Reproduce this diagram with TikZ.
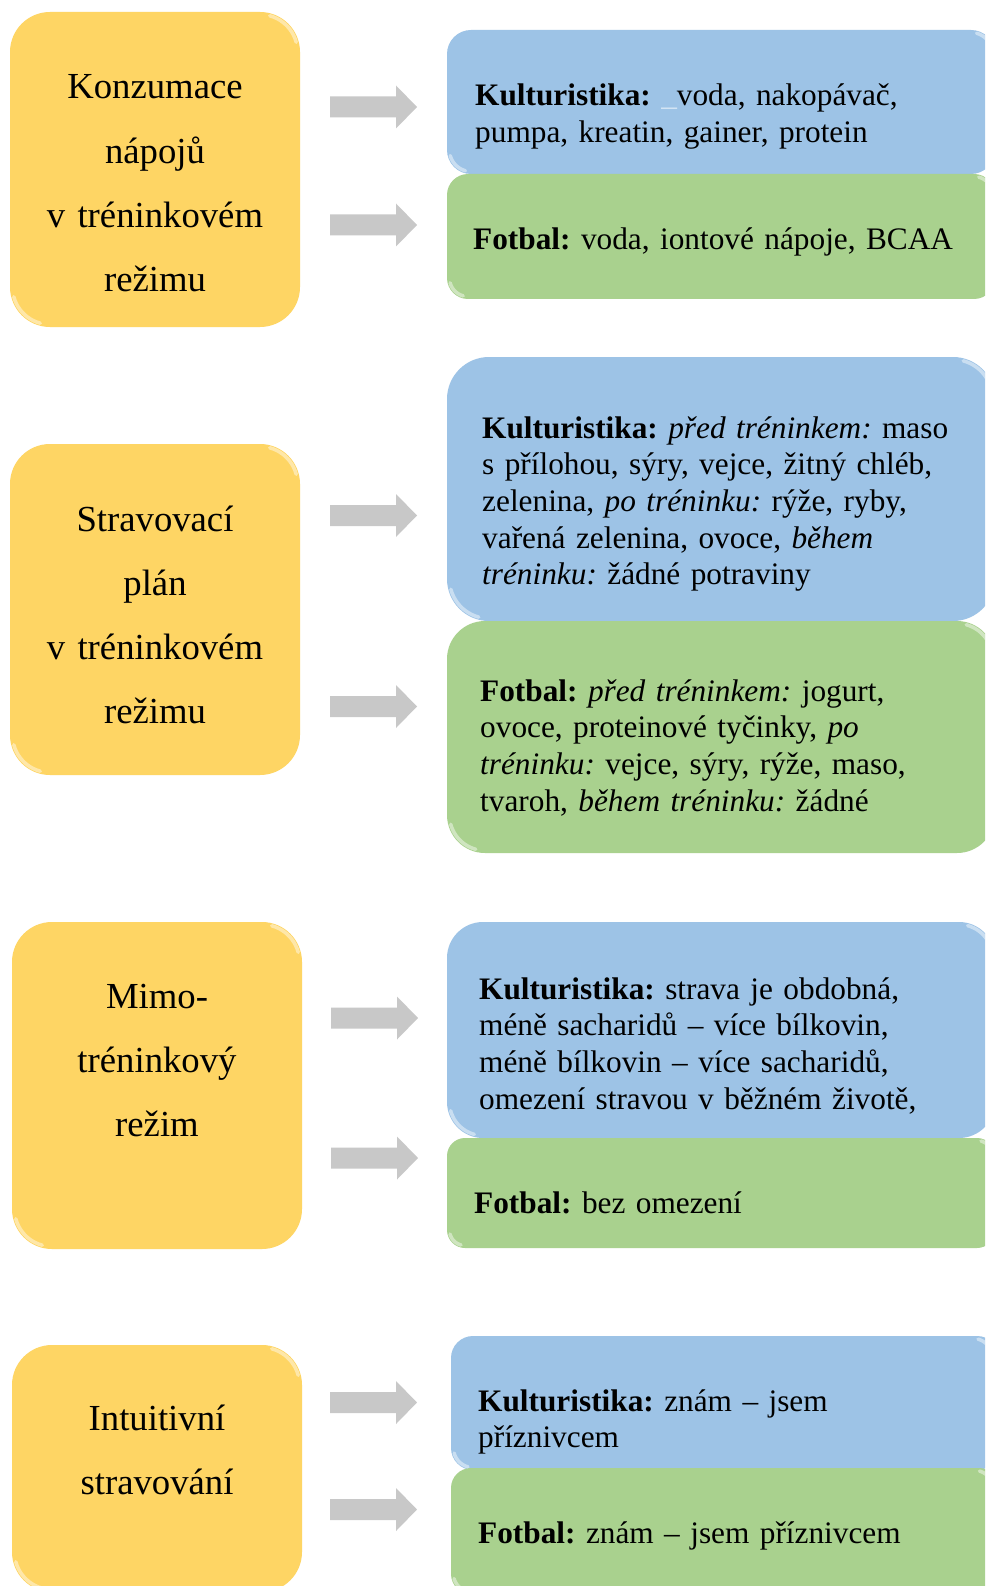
\documentclass[tikz,border=0pt]{standalone}
\usepackage{fontspec}
\setmainfont{Liberation Serif}
\frenchspacing
\definecolor{ybox}{RGB}{254,213,100}
\definecolor{bbox}{RGB}{157,195,230}
\definecolor{gbox}{RGB}{169,209,142}
\definecolor{agray}{RGB}{200,200,200}
\newcommand{\blockarr}[1]{\fill[agray] (#1) ++(0,-10.5) -- ++(66,0) -- ++(0,-11) -- ++(21,21.5) -- ++(-21,21.5) -- ++(0,-11) -- ++(-66,0) -- cycle;}
\newcommand{\glint}[5]{%
  \draw[white, opacity=0.45, line width=3.5, line cap=round] plot[domain=-75:-15, samples=12] ({#3-#5+(#5-2.5)*cos(\x)}, {#2+#5+(#5-2.5)*sin(\x)});
  \draw[white, opacity=0.45, line width=3.5, line cap=round] plot[domain=105:165, samples=12] ({#1+#5+(#5-2.5)*cos(\x)}, {#4-#5+(#5-2.5)*sin(\x)});}
\tikzset{
  boxbase/.style={rectangle, inner sep=0pt, outer sep=0pt, anchor=north west},
  ylw/.style={boxbase, fill=ybox, minimum width=290, rounded corners=40},
  blu/.style={boxbase, fill=bbox, minimum width=548},
  grn/.style={boxbase, fill=gbox, minimum width=548},
  lefttext/.style={inner sep=0pt, anchor=base, text width=290, align=center, font=\fontsize{36.7}{64.3}\selectfont\frenchspacing},
  righttext/.style={inner sep=0pt, anchor=base west, text width=520, align=left, font=\fontsize{31.3}{36.7}\selectfont\frenchspacing}
}
\begin{document}
\begin{tikzpicture}[x=1pt,y=-1pt]
\useasboundingbox (0,0) rectangle (985,1586);
\clip (0,0) rectangle (985,1586);
\fill[white] (0,0) rectangle (985,1586);

% ---------- Section 1 ----------
\node[ylw, minimum height=315] (Y1) at (10,12) {};
\node[blu, minimum height=144, rounded corners=24] (B1) at (447,30) {};
\node[grn, minimum height=125, rounded corners=21] (G1) at (447,174) {};
\glint{10}{12}{300}{327}{40}
\glint{447}{30}{995}{174}{24}
\glint{447}{174}{995}{299}{21}
\coordinate (a11) at (330,107);
\coordinate (a12) at (330,225);
\blockarr{a11}
\blockarr{a12}
\node[lefttext] (tY1) at (155,99) {Konzumace\\ nápojů\\ v tréninkovém\\ režimu};
\node[righttext] (tB1) at (475,106) {\textbf{Kulturistika:} \textcolor{white!55!bbox}{\_}voda, nakopávač,\\ pumpa, kreatin, gainer, protein};
\node[righttext] (tG1) at (473,250) {\textbf{Fotbal:} voda, iontové nápoje, BCAA};

% ---------- Section 2 ----------
\node[ylw, minimum height=331] (Y2) at (10,444) {};
\node[blu, minimum height=264, rounded corners=42] (B2) at (447,357) {};
\node[grn, minimum height=232, rounded corners=38] (G2) at (447,621) {};
\glint{10}{444}{300}{775}{40}
\glint{447}{357}{995}{621}{42}
\glint{447}{621}{995}{853}{38}
\coordinate (a21) at (330,515.5);
\coordinate (a22) at (330,706.5);
\blockarr{a21}
\blockarr{a22}
\node[lefttext] (tY2) at (155,531) {Stravovací\\ plán\\ v tréninkovém\\ režimu};
\node[righttext] (tB2) at (482,438) {\textbf{Kulturistika:} \textit{před tréninkem:} maso\\ s přílohou, sýry, vejce, žitný chléb,\\ zelenina, \textit{po tréninku:} rýže, ryby,\\ vařená zelenina, ovoce, \textit{během}\\ \textit{tréninku:} žádné potraviny};
\node[righttext] (tG2) at (480,701) {\textbf{Fotbal:} \textit{před tréninkem:} jogurt,\\ ovoce, proteinové tyčinky, \textit{po}\\ \textit{tréninku:} vejce, sýry, rýže, maso,\\ tvaroh, \textit{během tréninku:} žádné};

% ---------- Section 3 ----------
\node[ylw, minimum height=327] (Y3) at (12,922) {};
\node[blu, minimum height=216, rounded corners=36] (B3) at (447,922) {};
\node[grn, minimum height=110, rounded corners=18] (G3) at (447,1138) {};
\glint{12}{922}{302}{1249}{40}
\glint{447}{922}{995}{1138}{36}
\glint{447}{1138}{995}{1248}{18}
\coordinate (a31) at (331,1018);
\coordinate (a32) at (331,1158);
\blockarr{a31}
\blockarr{a32}
\node[lefttext] (tY3) at (157,1008) {Mimo-\\ tréninkový\\ režim};
\node[righttext] (tB3) at (479,999) {\textbf{Kulturistika:} strava je obdobná,\\ méně sacharidů – více bílkovin,\\ méně bílkovin – více sacharidů,\\ omezení stravou v běžném životě,};
\node[righttext] (tG3) at (474,1213) {\textbf{Fotbal:} bez omezení};

% ---------- Section 4 ----------
\node[ylw, minimum height=247] (Y4) at (12,1345) {};
\node[blu, minimum height=134, rounded corners=22] (B4) at (451,1336) {};
\node[grn, minimum height=126, rounded corners=20] (G4) at (451,1468) {};
\glint{12}{1345}{302}{1592}{40}
\glint{451}{1336}{995}{1470}{22}
\glint{451}{1468}{995}{1594}{20}
\coordinate (a41) at (330,1402.5);
\coordinate (a42) at (330,1509.5);
\blockarr{a41}
\blockarr{a42}
\node[lefttext] (tY4) at (157,1430) {Intuitivní\\ stravování};
\node[righttext] (tB4) at (478,1411) {\textbf{Kulturistika:} znám – jsem\\ příznivcem};
\node[righttext] (tG4) at (478,1543) {\textbf{Fotbal:} znám – jsem příznivcem};
\end{tikzpicture}
\end{document}
